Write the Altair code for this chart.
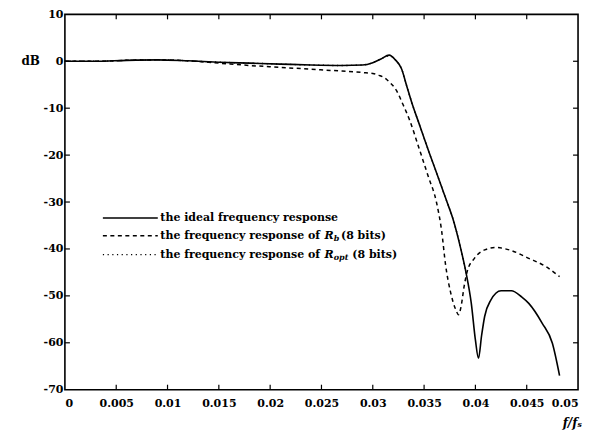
import altair as alt
import pandas as pd

# ---- data ----
f_ideal = [0, 0.003, 0.006, 0.009, 0.012, 0.015, 0.018, 0.021, 0.024, 0.027, 0.029, 0.0300,
           0.0308, 0.0316, 0.0322, 0.0328, 0.0333, 0.0339, 0.0344, 0.0355, 0.0365, 0.0372,
           0.0378, 0.0386, 0.0391, 0.0396, 0.0400, 0.0403, 0.0406, 0.0409, 0.0415, 0.0425,
           0.0435, 0.0445, 0.0452, 0.0465, 0.0475, 0.0482]
db_ideal = [0, 0, 0.2, 0.3, 0.1, -0.2, -0.4, -0.6, -0.8, -0.9, -0.8, -0.3,
            0.5, 1.3, 0.3, -1.6, -5.2, -9.5, -12.6, -19.5, -25.5, -29.8,
            -33.5, -40.2, -45.2, -51.6, -59.4, -63.3, -58.5, -54.4, -50.9, -48.9,
            -48.9, -50.2, -51.6, -55.8, -60.1, -67.0]

f_rb = [0, 0.003, 0.006, 0.009, 0.012, 0.015, 0.018, 0.021, 0.024, 0.027, 0.029, 0.0300,
        0.0306, 0.0312, 0.0316, 0.0323, 0.0329, 0.0336, 0.0345, 0.0354, 0.0362, 0.0367,
        0.0371, 0.0376, 0.0381, 0.03836, 0.0386, 0.0389, 0.0392, 0.0399, 0.0409, 0.0420,
        0.0433, 0.0452, 0.0469, 0.0482]
db_rb = [0, 0, 0.2, 0.3, 0.1, -0.4, -0.9, -1.3, -1.7, -2.1, -2.4, -2.6,
         -3.0, -3.6, -4.4, -6.2, -9.0, -12.6, -18.5, -24.5, -30.0, -36.0,
         -43.5, -49.4, -53.0, -54.0, -52.3, -48.0, -44.8, -42.0, -40.2, -39.7,
         -40.2, -42.0, -43.8, -45.9]

f_ropt = [0, 0.003, 0.006, 0.009, 0.012, 0.015, 0.018, 0.021, 0.024, 0.027, 0.029, 0.0300,
          0.0308, 0.0316, 0.0322, 0.0328, 0.0333, 0.0339, 0.0344, 0.0355, 0.0365, 0.0372,
          0.0378, 0.0386, 0.0391]
db_ropt = [0, 0, 0.2, 0.3, 0.1, -0.2, -0.4, -0.6, -0.8, -0.9, -0.8, -0.3,
           0.5, 1.2, 0.3, -1.6, -5.2, -9.5, -12.6, -19.5, -25.5, -29.8,
           -33.5, -40.2, -45.2]

x_ticks = [0, 0.005, 0.01, 0.015, 0.02, 0.025, 0.03, 0.035, 0.04, 0.045, 0.05]
y_ticks = [10, 0, -10, -20, -30, -40, -50, -60, -70]

legend_series = ["ideal", "rb", "ropt"]
legend_y = [-33.4, -37.2, -41.2]
legend_x1 = [0.0037, 0.0037, 0.0037]
legend_x2 = [0.00905, 0.00905, 0.00905]
legend_text_x = 0.0093

W, H = 514, 376
FONT = "DejaVu Serif"

xs = alt.Scale(domain=[0, 0.05], nice=False, zero=False)
ys = alt.Scale(domain=[-70, 10], nice=False, zero=False)

curves = pd.concat([
    pd.DataFrame({"f": f_ropt, "db": db_ropt, "s": "ropt"}),
    pd.DataFrame({"f": f_rb, "db": db_rb, "s": "rb"}),
    pd.DataFrame({"f": f_ideal, "db": db_ideal, "s": "ideal"}),
])

def curve(name, dash, sw):
    d = curves[curves.s == name]
    m = alt.Chart(d).mark_line(color="black", strokeWidth=sw, interpolate="monotone",
                               **({"strokeDash": dash} if dash else {}))
    return m.encode(
        x=alt.X("f:Q", scale=xs, axis=alt.Axis(values=x_ticks, format=".3~f", ticks=False,
                                              domain=False, grid=False, labelPadding=8,
                                              labelFont=FONT, labelFontSize=11,
                                              labelFontWeight="bold",
                                              labelColor="black", title=None)),
        y=alt.Y("db:Q", scale=ys, axis=alt.Axis(values=y_ticks, labelExpr="'' + datum.value",
                                               ticks=False, domain=False, grid=False,
                                               labelPadding=2, labelFont=FONT, labelFontSize=11,
                                               labelFontWeight="bold",
                                               labelColor="black", title="dB", titleAngle=0,
                                               titleX=-44, titleY=46, titleAlign="left",
                                               titleBaseline="middle", titleFont=FONT,
                                               titleFontSize=12, titleFontWeight="bold",
                                               titleColor="black")),
        order="f:Q",
    )

c_ropt = curve("ropt", [1.2, 3.5], 1.4)
c_rb = curve("rb", [4, 3.5], 1.5)
c_ideal = curve("ideal", None, 1.6)

xt = pd.DataFrame({"x": x_ticks[1:-1]})
yt = pd.DataFrame({"y": y_ticks[1:-1]})
tick_b = alt.Chart(xt).mark_rule(color="black", strokeWidth=1.2).encode(
    x=alt.X("x:Q", scale=xs), y=alt.value(H), y2=alt.value(H - 5))
tick_t = alt.Chart(xt).mark_rule(color="black", strokeWidth=1.2).encode(
    x=alt.X("x:Q", scale=xs), y=alt.value(0), y2=alt.value(5))
tick_l = alt.Chart(yt).mark_rule(color="black", strokeWidth=1.2).encode(
    y=alt.Y("y:Q", scale=ys), x=alt.value(0), x2=alt.value(5))
tick_r = alt.Chart(yt).mark_rule(color="black", strokeWidth=1.2).encode(
    y=alt.Y("y:Q", scale=ys), x=alt.value(W - 5), x2=alt.value(W))

leg = pd.DataFrame({"s": legend_series, "y": legend_y, "x1": legend_x1, "x2": legend_x2})
def leg_line(name, dash, sw):
    m = alt.Chart(leg[leg.s == name]).mark_rule(color="black", strokeWidth=sw,
                                                **({"strokeDash": dash} if dash else {}))
    return m.encode(x=alt.X("x1:Q", scale=xs), x2="x2:Q", y=alt.Y("y:Q", scale=ys))

ll1 = leg_line("ideal", None, 1.6)
ll2 = leg_line("rb", [4, 3.5], 1.5)
ll3 = leg_line("ropt", [1.2, 3.5], 1.4)

txt = pd.DataFrame({
    "x": [legend_text_x, legend_text_x, 0.0253, 0.0262, 0.0269,
          legend_text_x, 0.0253, 0.0262, 0.0280],
    "y": [legend_y[0], legend_y[1], legend_y[1], legend_y[1], legend_y[1],
          legend_y[2], legend_y[2], legend_y[2], legend_y[2]],
    "t": ["the ideal frequency response", "the frequency response of", "R", "b", "(8 bits)",
          "the frequency response of", "R", "opt", "(8 bits)"],
    "kind": ["n", "n", "i", "sub", "n", "n", "i", "sub", "n"],
})
def leg_text(kind, **kw):
    return alt.Chart(txt[txt.kind == kind]).mark_text(
        align="left", baseline="middle", font=FONT, color="black", fontWeight="bold", **kw
    ).encode(x=alt.X("x:Q", scale=xs), y=alt.Y("y:Q", scale=ys), text="t:N")

t_n = leg_text("n", fontSize=11)
t_i = leg_text("i", fontSize=11, fontStyle="italic")
t_s = leg_text("sub", fontSize=8, fontStyle="italic", dy=3)

xtitle = alt.Chart(pd.DataFrame({"x": [0.0485], "y": [-70], "t": ["f/fₛ"]})).mark_text(
    align="left", baseline="top", font=FONT, fontSize=12, fontStyle="italic",
    fontWeight="bold", color="black", dy=28
).encode(x=alt.X("x:Q", scale=xs), y=alt.Y("y:Q", scale=ys), text="t:N")

chart = alt.layer(
    c_ropt, c_rb, c_ideal, tick_b, tick_t, tick_l, tick_r,
    ll1, ll2, ll3, t_n, t_i, t_s, xtitle
).properties(
    width=W, height=H,
    autosize=alt.AutoSizeParams(type="none"),
    padding={"left": 57, "top": 6, "right": 20, "bottom": 40},
    background="white",
).configure_view(stroke="black", strokeWidth=1.6)

chart.save("out.html", embed_options={"renderer": "svg", "actions": False})
